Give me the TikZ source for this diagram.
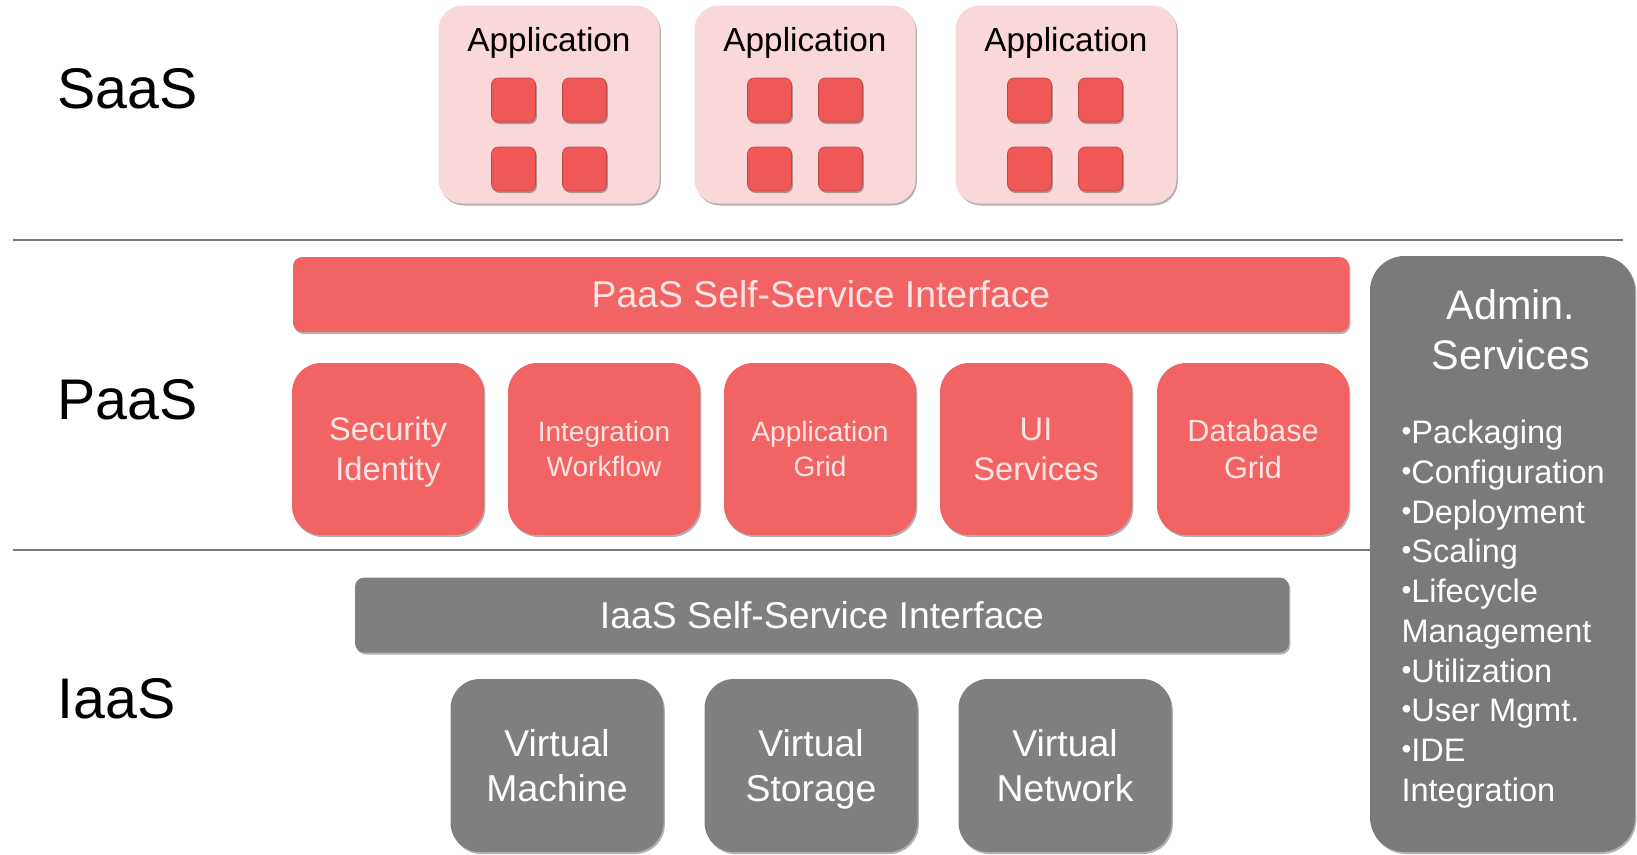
\documentclass[tikz,border=0pt]{standalone}
\usepackage{fontspec}
\setmainfont{Liberation Sans}
\usetikzlibrary{shadows}

\definecolor{paasred}{RGB}{242,100,100}
\definecolor{paastext}{RGB}{255,228,228}
\definecolor{apppink}{RGB}{250,216,218}
\definecolor{sqred}{RGB}{240,88,88}
\definecolor{iaasgray}{RGB}{127,127,127}
\definecolor{admingray}{RGB}{122,122,122}
\definecolor{rulegray}{RGB}{120,120,120}

\tikzset{every picture/.style={line width=0.75pt}}
\tikzset{
	softshadow/.style={drop shadow={shadow xshift=1pt,shadow yshift=-1.5pt,opacity=0.3,fill=black}},
	layerlabel/.style={anchor=west,inner sep=0pt,font=\fontsize{43}{48}\selectfont},
	appbox/.style={fill=apppink,rounded corners=18pt,minimum width=165.75pt,minimum height=148.5pt,inner sep=0pt,softshadow},
	apptext/.style={font=\fontsize{25}{28}\selectfont},
	appsq/.style={fill=sqred,draw=sqred!80!black,line width=0.5pt,rounded corners=5pt,minimum size=33pt,inner sep=0pt,softshadow},
	paasbar/.style={fill=paasred,rounded corners=7pt,minimum width=792pt,minimum height=56.25pt,inner sep=0pt,text=paastext,font=\fontsize{28}{32}\selectfont,softshadow},
	paasbox/.style={fill=paasred,rounded corners=22pt,minimum width=144pt,minimum height=129pt,inner sep=0pt,text depth=0pt,text=paastext,align=center,softshadow},
	iaasbar/.style={fill=iaasgray,rounded corners=7pt,minimum width=700.5pt,minimum height=56.25pt,inner sep=0pt,text=white,font=\fontsize{28}{32}\selectfont,softshadow},
	virtbox/.style={fill=iaasgray,rounded corners=22pt,minimum width=159.75pt,minimum height=129.75pt,inner sep=0pt,text depth=0pt,text=white,align=center,font=\fontsize{28}{33.75}\selectfont,softshadow},
	adminbox/.style={fill=admingray,rounded corners=26pt,minimum width=198.75pt,minimum height=447pt,inner sep=0pt,softshadow},
	sepline/.style={draw=rulegray,line width=1.5pt}
}
\newcommand{\adbul}{{\fontsize{21}{21}\selectfont\raisebox{0.2ex}{•}}}

\begin{document}
\begin{tikzpicture}[x=0.75pt,y=0.75pt,yscale=-1,xscale=1]
	\useasboundingbox (0,0) rectangle (1637,854);

	%Straight Lines: layer rules
	\coordinate (r1a) at (12.5,240);
	\coordinate (r1b) at (1623,240);
	\draw[sepline] (r1a) -- (r1b);

	%Shape: Rounded Rect (admin)
	\node[adminbox] (admin) at (1502.5,554) {};
	\coordinate (r2a) at (12.5,550);
	\draw[sepline] (r2a) -- (r2a -| admin.west);

	% Text Node
	\node[layerlabel] (saas) at (57,89) {SaaS};
	% Text Node
	\node[layerlabel] (paas) at (57,400) {PaaS};
	% Text Node
	\node[layerlabel] (iaas) at (57,699) {IaaS};

	%Shape: Rounded Rect (applications)
	\node[appbox] (app1) at (549,104.5) {};
	\node[appbox] (app2) at (805,104.5) {};
	\node[appbox] (app3) at (1066,104.5) {};
	% Text Node
	\node[apptext] (app1t) at (549,43) {Application};
	% Text Node
	\node[apptext] (app2t) at (805,43) {Application};
	% Text Node
	\node[apptext] (app3t) at (1066,43) {Application};
	%Shape: Square
	\node[appsq] (sq11) at (513.5,100) {};
	\node[appsq] (sq12) at (584.5,100) {};
	\node[appsq] (sq13) at (513.5,169) {};
	\node[appsq] (sq14) at (584.5,169) {};
	\node[appsq] (sq21) at (769.5,100) {};
	\node[appsq] (sq22) at (840.5,100) {};
	\node[appsq] (sq23) at (769.5,169) {};
	\node[appsq] (sq24) at (840.5,169) {};
	\node[appsq] (sq31) at (1029.5,100) {};
	\node[appsq] (sq32) at (1100.5,100) {};
	\node[appsq] (sq33) at (1029.5,169) {};
	\node[appsq] (sq34) at (1100.5,169) {};

	%Shape: Rounded Rect (PaaS)
	\node[paasbar] (paasif) at (821,294.5) {PaaS Self-Service Interface};
	\node[paasbox,font=\fontsize{24.5}{30}\selectfont] (secid) at (388,449) {Security\\Identity};
	\node[paasbox,font=\fontsize{21}{26}\selectfont] (intwf) at (604,449) {Integration\\Workflow};
	\node[paasbox,font=\fontsize{21}{26}\selectfont] (appgrid) at (820,449) {Application\\Grid};
	\node[paasbox,font=\fontsize{24.5}{30}\selectfont] (uisvc) at (1036,449) {UI\\Services};
	\node[paasbox,font=\fontsize{23}{28}\selectfont] (dbgrid) at (1253,449) {Database\\Grid};

	%Shape: Rounded Rect (IaaS)
	\node[iaasbar] (iaasif) at (822,615) {IaaS Self-Service Interface};
	\node[virtbox] (vm) at (557,765.5) {Virtual\\Machine};
	\node[virtbox] (vs) at (811,765.5) {Virtual\\Storage};
	\node[virtbox] (vn) at (1065,765.5) {Virtual\\Network};

	% Text Node
	\node[text=white,align=center,font=\fontsize{31}{37.5}\selectfont] (admint) at (1511,330) {Admin.\\Services};
	% Text Node
	\node[text=white,align=left,anchor=west,inner sep=0pt,font=\fontsize{24.4}{29.8}\selectfont] (adminl) at (1401,614) {\adbul Packaging\\\adbul Configuration\\\adbul Deployment\\\adbul Scaling\\\adbul Lifecycle\\Management\\\adbul Utilization\\\adbul User Mgmt.\\\adbul IDE\\Integration};

\end{tikzpicture}
\end{document}
